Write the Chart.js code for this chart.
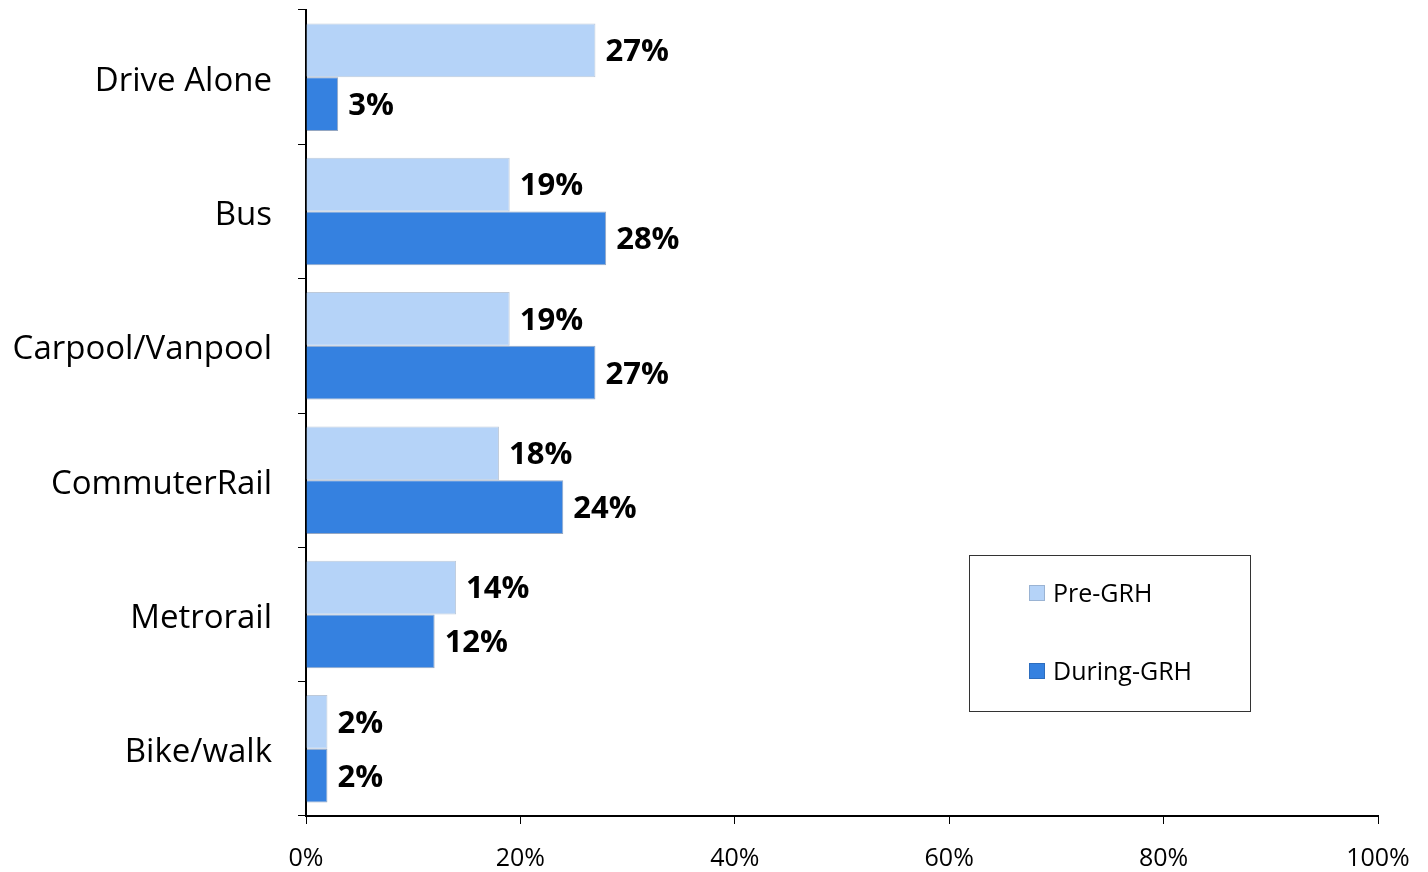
<!DOCTYPE html>
<html>
<head>
<meta charset="utf-8">
<script src="https://cdn.jsdelivr.net/npm/chart.js@4"></script>
<style>
  html, body { margin: 0; padding: 0; background: #fff; }
  #wrap { width: 1428px; height: 872px; }
</style>
</head>
<body>
<div id="wrap"><canvas id="modeChart" width="1428" height="872"></canvas></div>
<script>
const categories = ['Drive Alone', 'Bus', 'Carpool/Vanpool', 'CommuterRail', 'Metrorail', 'Bike/walk'];
const preGRH = [27, 19, 19, 18, 14, 2];
const duringGRH = [3, 28, 27, 24, 12, 2];
const xTicks = [0, 20, 40, 60, 80, 100];

const FONT = '"Open Sans", Lato, sans-serif';

// value labels to the right of each bar
const barLabels = {
  id: 'barLabels',
  afterDatasetsDraw(chart) {
    const ctx = chart.ctx;
    ctx.save();
    ctx.font = 'bold 31px ' + FONT;
    ctx.fillStyle = '#000';
    ctx.textAlign = 'left';
    ctx.textBaseline = 'middle';
    chart.data.datasets.forEach((ds, i) => {
      chart.getDatasetMeta(i).data.forEach((bar, j) => {
        ctx.fillText(ds.data[j] + '%', bar.x + 10, bar.y + 2);
      });
    });
    ctx.restore();
  }
};

// boxed legend sitting in the lower right of the plot
const boxLegend = {
  id: 'boxLegend',
  afterDraw(chart) {
    const ctx = chart.ctx;
    const x = 969, y = 555, w = 281, h = 156;
    ctx.save();
    ctx.fillStyle = '#fff';
    ctx.fillRect(x, y, w, h);
    ctx.strokeStyle = '#333';
    ctx.lineWidth = 1;
    ctx.strokeRect(x + 0.5, y + 0.5, w, h);
    ctx.font = '25px ' + FONT;
    ctx.textBaseline = 'middle';
    ctx.textAlign = 'left';
    chart.data.datasets.forEach((ds, i) => {
      const cy = y + 38 + i * 78;
      ctx.fillStyle = ds.backgroundColor;
      ctx.fillRect(x + 60, cy - 8, 16, 16);
      ctx.strokeStyle = 'rgba(0,0,0,0.15)';
      ctx.strokeRect(x + 60.5, cy - 7.5, 15, 15);
      ctx.fillStyle = '#000';
      ctx.fillText(ds.label, x + 84, cy + 2);
    });
    ctx.restore();
  }
};

new Chart(document.getElementById('modeChart'), {
  type: 'bar',
  data: {
    labels: categories,
    datasets: [
      {
        label: 'Pre-GRH',
        data: preGRH,
        backgroundColor: '#b5d3f8',
        borderColor: 'rgba(90,120,160,0.4)',
        borderWidth: 1,
        categoryPercentage: 0.8,
        barPercentage: 1.0
      },
      {
        label: 'During-GRH',
        data: duringGRH,
        backgroundColor: '#3581e0',
        borderColor: 'rgba(20,60,120,0.45)',
        borderWidth: 1,
        categoryPercentage: 0.8,
        barPercentage: 1.0
      }
    ]
  },
  options: {
    indexAxis: 'y',
    responsive: false,
    animation: false,
    layout: { padding: { top: 10, right: 50, left: 0, bottom: 0 } },
    plugins: {
      legend: { display: false },
      tooltip: { enabled: false }
    },
    scales: {
      x: {
        min: 0,
        max: 100,
        afterBuildTicks(scale) { scale.ticks = xTicks.map(v => ({ value: v })); },
        afterFit(scale) {
          scale.height = 56;
          scale.paddingLeft = 0;
          scale.paddingRight = 0;
        },
        ticks: {
          callback: v => v + '%',
          color: '#000',
          font: { family: FONT, size: 25 },
          padding: 20,
          maxRotation: 0
        },
        grid: { drawOnChartArea: false, drawTicks: true, tickLength: 8, color: '#000', lineWidth: 1 },
        border: { display: true, color: '#000', width: 2 }
      },
      y: {
        afterFit(scale) {
          scale.width = 306;
          scale.paddingTop = 0;
          scale.paddingBottom = 0;
        },
        ticks: {
          color: '#000',
          font: { family: FONT, size: 33 },
          padding: 26,
          labelOffset: 4
        },
        grid: { drawOnChartArea: false, drawTicks: true, tickLength: 8, color: '#000', lineWidth: 1, offset: true },
        border: { display: true, color: '#000', width: 2 }
      }
    }
  },
  plugins: [barLabels, boxLegend]
});
</script>
</body>
</html>
